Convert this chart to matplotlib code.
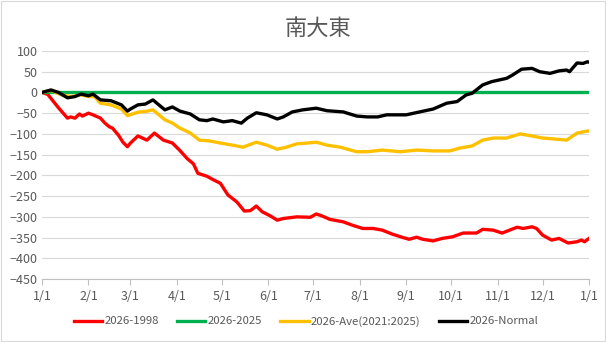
import numpy as np
from matplotlib import pyplot as plt
from matplotlib.patches import Rectangle

plt.rcParams['font.family'] = ['Noto Sans CJK JP', 'DejaVu Sans']

# giorni dall'1/1 e valori
red_days = [0, 4, 5, 11, 17, 19, 22, 25, 27, 31, 34, 39, 42, 45, 47, 51, 54, 57, 59, 64,
            67, 70, 75, 81, 87, 92, 97, 101, 104, 110, 114, 119, 124, 130, 135, 139, 143,
            147, 152, 157, 161, 170, 179, 183, 187, 192, 201, 207, 214, 221, 227, 234,
            241, 245, 250, 254, 261, 267, 274, 281, 290, 294, 301, 307, 317, 321, 327,
            330, 334, 340, 345, 351, 357, 360, 362, 365]
red_vals = [0, -5, -10, -37, -62, -59, -62, -52, -57, -50, -54, -62, -74, -83, -86, -103,
            -120, -131, -122, -105, -110, -115, -98, -115, -122, -140, -160, -172, -195,
            -202, -210, -219, -247, -264, -286, -285, -274, -288, -297, -308, -304, -300,
            -301, -293, -298, -306, -312, -320, -328, -328, -332, -342, -350, -354, -349,
            -354, -358, -352, -348, -339, -339, -330, -332, -339, -325, -328, -324, -328,
            -344, -356, -352, -363, -360, -356, -360, -352]

green_days = [0, 365]
green_vals = [0, 0]

ave_days = [0, 6, 13, 19, 26, 31, 35, 39, 46, 53, 57, 62, 65, 69, 74, 82, 87, 92, 99, 105,
            112, 119, 127, 134, 143, 150, 157, 163, 170, 177, 183, 190, 199, 210, 217, 227,
            239, 250, 261, 272, 279, 287, 294, 301, 310, 319, 327, 334, 341, 350, 357, 364, 365]
ave_vals = [0, 5, -6, -10, -6, -10, -10, -26, -30, -40, -56, -50, -47, -46, -42, -66, -74,
            -86, -98, -115, -117, -122, -127, -132, -120, -127, -137, -132, -124, -122, -120,
            -127, -132, -143, -143, -139, -143, -139, -141, -141, -134, -129, -115, -110,
            -110, -100, -105, -110, -112, -115, -98, -93, -93]

norm_days = [0, 6, 11, 17, 22, 26, 31, 34, 39, 46, 53, 57, 59, 64, 69, 74, 82, 87, 92, 99,
             105, 110, 114, 121, 127, 133, 137, 143, 150, 157, 161, 167, 174, 183, 190, 201,
             210, 217, 224, 230, 243, 252, 261, 270, 277, 283, 287, 294, 300, 305, 310, 314,
             320, 327, 332, 339, 345, 350, 352, 357, 361, 364, 365]
norm_vals = [0, 6, 0, -13, -10, -4, -8, -4, -18, -20, -30, -45, -40, -30, -28, -18, -42, -35,
             -45, -52, -66, -68, -64, -71, -68, -74, -62, -49, -54, -64, -59, -47, -42, -38,
             -44, -47, -57, -59, -59, -54, -54, -47, -40, -26, -22, -6, -2, 18, 26, 30, 34,
             42, 56, 58, 50, 46, 52, 54, 50, 71, 70, 74, 73]

month_days = [0, 31, 59, 90, 120, 151, 181, 212, 243, 273, 304, 334, 365]
month_labels = ['1/1', '2/1', '3/1', '4/1', '5/1', '6/1', '7/1', '8/1', '9/1',
                '10/1', '11/1', '12/1', '1/1']

grey = '#595959'

f1 = plt.figure(figsize=(6.06, 3.42), dpi=100)
ax1 = f1.add_axes([0.0693, 0.184, 0.9027, 0.667])

lw = 2.4
ax1.plot(red_days, red_vals, color='#ff0000', lw=lw, label='2026-1998')
ax1.plot(green_days, green_vals, color='#00b050', lw=lw, label='2026-2025')
ax1.plot(ave_days, ave_vals, color='#ffc000', lw=lw, label='2026-Ave(2021:2025)')
ax1.plot(norm_days, norm_vals, color='#000000', lw=lw, label='2026-Normal')

ax1.set_xlim(0, 365)
ax1.set_ylim(-450, 100)
ax1.set_yticks(np.arange(-450, 101, 50))
ax1.set_xticks(month_days)
ax1.set_xticklabels(month_labels)

ax1.grid(True, axis='y', color='#d9d9d9', lw=0.8)
ax1.set_axisbelow(True)
for s in ('top', 'right', 'left'):
    ax1.spines[s].set_visible(False)
ax1.spines['bottom'].set_color('#bfbfbf')
ax1.tick_params(axis='y', length=0, labelsize=9, colors=grey, pad=3)
ax1.tick_params(axis='x', length=4, color='#bfbfbf', labelsize=9, labelcolor=grey, pad=4)

f1.text(0.525, 1 - 28 / 342, '南大東', fontsize=16, color=grey, ha='center', va='center')

f1.legend(loc='center', bbox_to_anchor=(0.505, 0.061), ncol=4, frameon=False,
          fontsize=8.2, labelcolor=grey, handlelength=2.5, columnspacing=1.6,
          handletextpad=0.2)

f1.patches.append(Rectangle((0.001, 0.002), 0.997, 0.995, transform=f1.transFigure,
                            fill=False, edgecolor='#d9d9d9', lw=0.8))

f1.savefig('out.png', dpi=100)
